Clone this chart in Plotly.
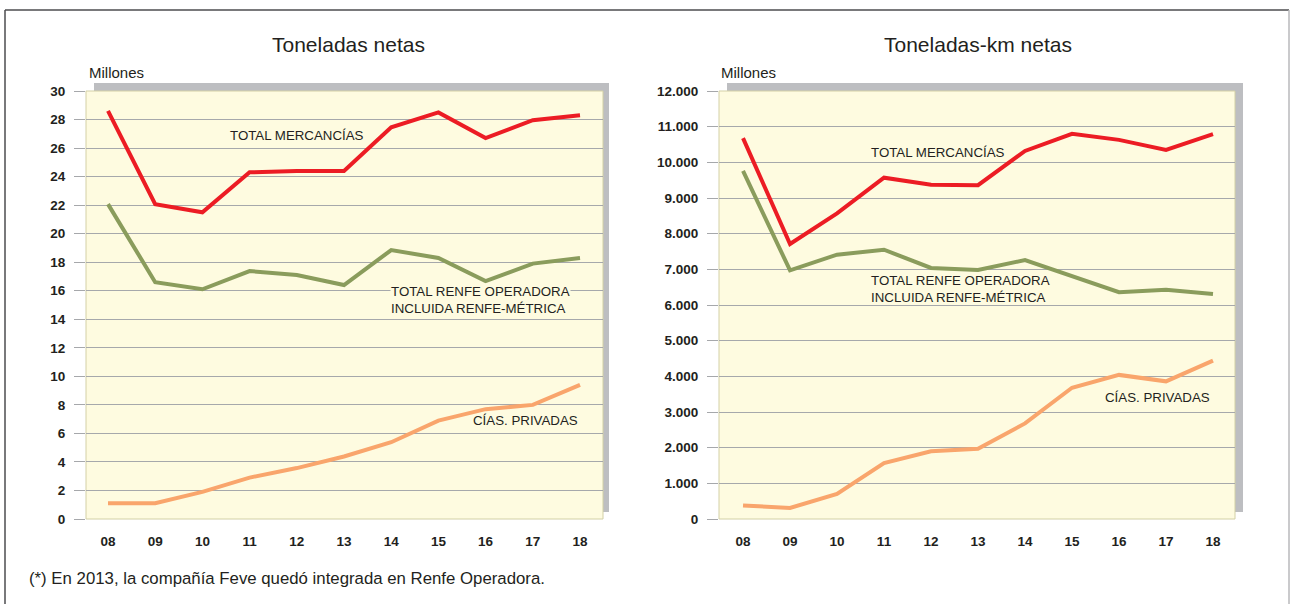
import plotly.graph_objects as go

W, H = 1290, 604

years = ["08", "09", "10", "11", "12", "13", "14", "15", "16", "17", "18"]

# Toneladas netas (millones)
ton_total = [28.6, 22.07, 21.5, 24.3, 24.4, 24.4, 27.45, 28.5, 26.7, 27.95, 28.3]
ton_renfe = [22.07, 16.6, 16.1, 17.38, 17.1, 16.4, 18.85, 18.3, 16.68, 17.9, 18.3]
ton_priv = [1.1, 1.1, 1.9, 2.9, 3.57, 4.38, 5.38, 6.9, 7.7, 8.0, 9.4]

# Toneladas-km netas (millones)
tkm_total = [10680, 7710, 8570, 9570, 9370, 9360, 10320, 10800, 10630, 10350, 10790]
tkm_renfe = [9760, 6970, 7410, 7550, 7040, 6980, 7260, 6800, 6360, 6430, 6310]
tkm_priv = [380, 310, 700, 1570, 1900, 1970, 2680, 3680, 4040, 3860, 4440]

ton_ticks = list(range(0, 31, 2))
tkm_ticks = list(range(0, 12001, 1000))

RED = "#ec1c24"
GREEN = "#8a9c5c"
ORANGE = "#f9a56c"
YELLOW = "#fefbe0"
SHADOW = "#bdbec1"
GRID = "#a6a8ab"
TXT = "#231f20"
TICKFONT = dict(family="Liberation Sans, Arial, sans-serif",
                size=13.5, color=TXT, weight="bold")
TEXTFONT = "Liberation Sans, Arial, sans-serif"

def px(x):
    return x / W

def py(y):
    return (H - y) / H

fig = go.Figure()

series = [
    (ton_total, RED, "x", "y"), (ton_renfe, GREEN, "x", "y"), (ton_priv, ORANGE, "x", "y"),
    (tkm_total, RED, "x2", "y2"), (tkm_renfe, GREEN, "x2", "y2"), (tkm_priv, ORANGE, "x2", "y2"),
]
for vals, col, xa, ya in series:
    fig.add_trace(go.Scatter(x=years, y=vals, mode="lines", xaxis=xa, yaxis=ya,
                             line=dict(color=col, width=4), showlegend=False,
                             hoverinfo="skip"))

ydom = [py(519), py(91)]
xdom1 = [px(86), px(603)]
xdom2 = [px(719), px(1235)]

common_x = dict(type="category", showgrid=False, zeroline=False, showline=False,
                ticks="", tickfont=TICKFONT, ticklabelstandoff=12, automargin=False,
                fixedrange=True)
common_y = dict(showgrid=True, gridcolor=GRID, gridwidth=1, zeroline=False, showline=False,
                ticks="outside", ticklen=11, tickcolor=GRID, tickwidth=1,
                tickfont=TICKFONT, ticklabelstandoff=6, automargin=False, fixedrange=True)

fig.update_layout(
    width=W, height=H, autosize=False,
    margin=dict(l=0, r=0, t=0, b=0),
    paper_bgcolor="white", plot_bgcolor="rgba(0,0,0,0)",
    separators=",.",
    xaxis=dict(domain=xdom1, range=[-0.466, 10.487], anchor="y", **common_x),
    yaxis=dict(domain=ydom, range=[0, 30], tickvals=ton_ticks, anchor="x", **common_y),
    xaxis2=dict(domain=xdom2, range=[-0.511, 10.468], anchor="y2", **common_x),
    yaxis2=dict(domain=ydom, range=[0, 12000], tickvals=tkm_ticks, tickformat=",d",
                anchor="x2", **common_y),
)

shapes = []
# shadows
for x0, x1 in [(94, 609), (727, 1243)]:
    shapes.append(dict(type="rect", xref="paper", yref="paper", x0=px(x0), x1=px(x1),
                       y0=py(512), y1=py(83), fillcolor=SHADOW, line=dict(width=0),
                       layer="below"))
# yellow plot areas
for x0, x1 in [(86, 603), (719, 1235)]:
    shapes.append(dict(type="rect", xref="paper", yref="paper", x0=px(x0), x1=px(x1),
                       y0=py(519), y1=py(91), fillcolor=YELLOW,
                       line=dict(color="#d3d0a6", width=1), layer="below"))
# outer frame
shapes.append(dict(type="line", xref="paper", yref="paper", x0=px(5), x1=px(1289),
                   y0=py(10), y1=py(10), line=dict(color="#4d4d4f", width=1.5)))
shapes.append(dict(type="line", xref="paper", yref="paper", x0=px(5), x1=px(5),
                   y0=py(10), y1=-0.05, line=dict(color="#4d4d4f", width=1.5)))
shapes.append(dict(type="line", xref="paper", yref="paper", x0=px(1289), x1=px(1289),
                   y0=py(10), y1=-0.05, line=dict(color="#b8b9bb", width=1.5)))
fig.update_layout(shapes=shapes)

ann = []
def ptext(text, x, y, size, xanchor="center"):
    ann.append(dict(text=text, xref="paper", yref="paper", x=px(x), y=py(y),
                    xanchor=xanchor, yanchor="middle", showarrow=False,
                    font=dict(family=TEXTFONT, size=size, color=TXT)))

ptext("Toneladas netas", 348, 44, 21)
ptext("Toneladas-km netas", 978, 44, 21)
ptext("Millones", 87, 72, 15, "left")
ptext("Millones", 719, 72, 15, "left")
ptext("(*) En 2013, la compañía Feve quedó integrada en Renfe Operadora.", 27, 578, 16.8, "left")

def dtext(text, x, y, xa, ya, bg=None):
    d = dict(text=text, xref=xa, yref=ya, x=x, y=y, xanchor="left", yanchor="middle",
             showarrow=False, align="left",
             font=dict(family=TEXTFONT, size=13.3, color=TXT))
    if bg:
        d.update(bgcolor=bg, borderpad=0)
    ann.append(d)

dtext("TOTAL MERCANCÍAS", 2.55, 26.9, "x", "y")
dtext("TOTAL RENFE OPERADORA<br>INCLUIDA RENFE-MÉTRICA", 5.98, 15.35, "x", "y", YELLOW)
dtext("CÍAS. PRIVADAS", 7.68, 6.87, "x", "y")
dtext("TOTAL MERCANCÍAS", 2.67, 10270, "x2", "y2")
dtext("TOTAL RENFE OPERADORA<br>INCLUIDA RENFE-MÉTRICA", 2.68, 6460, "x2", "y2")
dtext("CÍAS. PRIVADAS", 7.66, 3410, "x2", "y2")

fig.update_layout(annotations=ann)

fig.write_html("out.html", config={"displayModeBar": False},
               post_script="document.body.style.margin='0';")
